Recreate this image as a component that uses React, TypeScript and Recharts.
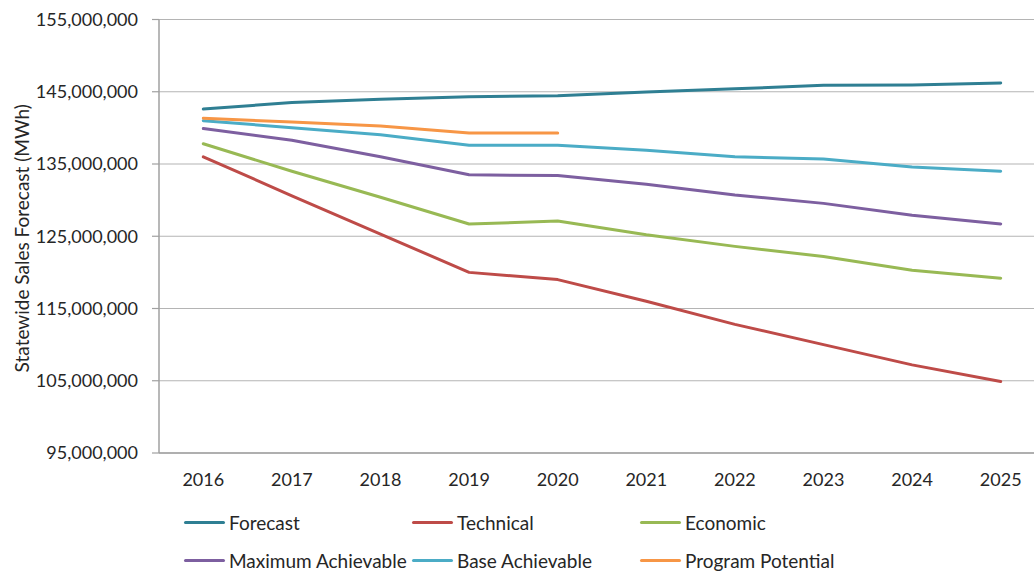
import React from 'react';
import { LineChart, Line, XAxis, YAxis, CartesianGrid, Legend, Label } from 'recharts';

// values in millions of MWh
const years = ['2016', '2017', '2018', '2019', '2020', '2021', '2022', '2023', '2024', '2025'];
const forecast = [142.6, 143.5, 143.95, 144.3, 144.45, 144.95, 145.4, 145.9, 145.95, 146.2];
const technical = [136.0, 130.6, 125.3, 120.0, 119.0, 116.0, 112.8, 110.0, 107.2, 104.9];
const economic = [137.8, 134.0, 130.4, 126.7, 127.1, 125.2, 123.6, 122.2, 120.3, 119.2];
const maxAchievable = [139.9, 138.3, 136.0, 133.5, 133.4, 132.2, 130.7, 129.55, 127.9, 126.7];
const baseAchievable = [141.0, 140.03, 139.06, 137.6, 137.6, 136.9, 136.0, 135.7, 134.6, 134.0];
const programPotential = [141.33, 140.8, 140.26, 139.3, 139.3, null, null, null, null, null];

const yTicks = [95, 105, 115, 125, 135, 145, 155].map(v => v * 1e6);
const edges = [0, 1, 2, 3, 4, 5, 6, 7, 8, 9, 10];

const series = [
  { key: 'forecast', name: 'Forecast', color: '#2F7F93', values: forecast },
  { key: 'technical', name: 'Technical', color: '#BE4B48', values: technical },
  { key: 'economic', name: 'Economic', color: '#98B954', values: economic },
  { key: 'maxAchievable', name: 'Maximum Achievable', color: '#7D5FA0', values: maxAchievable },
  { key: 'baseAchievable', name: 'Base Achievable', color: '#4BACC6', values: baseAchievable },
  { key: 'programPotential', name: 'Program Potential', color: '#F79646', values: programPotential },
];
const seriesOrder = series.map(s => s.name);

const data = years.map((year, i) => {
  const row: Record<string, string | number | null> = { year };
  series.forEach(s => {
    const v = s.values[i];
    row[s.key] = v == null ? null : Math.round(v * 1e6);
  });
  return row;
});

const FONT = 'Lato, "Open Sans", sans-serif';
const TEXT = '#262626';
const BAND_PAD = 44.3;

const fmt = (v: number) => v.toLocaleString('en-US');

function LegendBox(props: any) {
  const items = [...(props.payload || [])].sort(
    (a: any, b: any) => seriesOrder.indexOf(a.value) - seriesOrder.indexOf(b.value)
  );
  return (
    <div style={{ position: 'relative', width: 1034, height: 68, fontFamily: FONT, fontSize: 19, color: TEXT }}>
      {items.map((it: any, i: number) => {
        const col = i % 3;
        const row = Math.floor(i / 3);
        return (
          <div
            key={it.value}
            style={{ position: 'absolute', left: 184 + col * 228, top: 10 + row * 38, height: 24, display: 'flex', alignItems: 'center', whiteSpace: 'nowrap' }}
          >
            <span style={{ display: 'inline-block', width: 41, height: 3, borderRadius: 2, background: it.color, marginRight: 4 }} />
            <span>{it.value}</span>
          </div>
        );
      })}
    </div>
  );
}

export default function App() {
  return (
    <div style={{ position: 'absolute', left: 0, top: 0, width: 1034, height: 571, overflow: 'hidden', background: '#fff' }}>
      <LineChart width={1050} height={571} data={data} margin={{ top: 19.5, right: 5, bottom: 20, left: 0 }}>
        <CartesianGrid vertical={false} stroke="#b4b4b4" strokeWidth={1.2} />
        <XAxis
          xAxisId="edges"
          type="number"
          domain={[0, 10]}
          ticks={edges}
          tick={false}
          axisLine={false}
          tickLine={{ stroke: '#a0a0a0', strokeWidth: 1.2 }}
          tickSize={7}
          height={0}
        />
        <XAxis
          dataKey="year"
          padding={{ left: BAND_PAD, right: BAND_PAD }}
          axisLine={{ stroke: '#a0a0a0', strokeWidth: 1.5 }}
          tickLine={false}
          tickSize={7}
          tickMargin={13}
          height={30}
          interval={0}
          tick={{ fill: TEXT, fontSize: 18, fontFamily: FONT }}
        />
        <YAxis
          width={159}
          domain={[95e6, 155e6]}
          ticks={yTicks}
          interval={0}
          tickFormatter={fmt}
          axisLine={{ stroke: '#a0a0a0', strokeWidth: 1.5 }}
          tickLine={{ stroke: '#a0a0a0', strokeWidth: 1.2 }}
          tickSize={7}
          tickMargin={14}
          tick={{ fill: TEXT, fontSize: 18, fontFamily: FONT }}
        >
          <Label
            content={(p: any) => {
              const vb = p.viewBox || { x: 0, y: 0, height: 0 };
              const cx = vb.x + 21;
              const cy = vb.y + vb.height / 2 + 2;
              return (
                <text
                  x={cx}
                  y={cy}
                  transform={`rotate(-90, ${cx}, ${cy})`}
                  textAnchor="middle"
                  dominantBaseline="central"
                  fill={TEXT}
                  fontSize={19}
                  fontFamily={FONT}
                >
                  Statewide Sales Forecast (MWh)
                </text>
              );
            }}
          />
        </YAxis>
        <Legend
          verticalAlign="bottom"
          content={<LegendBox />}
          wrapperStyle={{ left: 0, top: 500, bottom: 'auto', width: 1034, height: 68 }}
        />
        {series.map(s => (
          <Line
            key={s.key}
            dataKey={s.key}
            name={s.name}
            stroke={s.color}
            strokeWidth={3}
            strokeLinecap="round"
            strokeLinejoin="round"
            dot={false}
            activeDot={false}
            type="linear"
            isAnimationActive={false}
          />
        ))}
      </LineChart>
    </div>
  );
}
